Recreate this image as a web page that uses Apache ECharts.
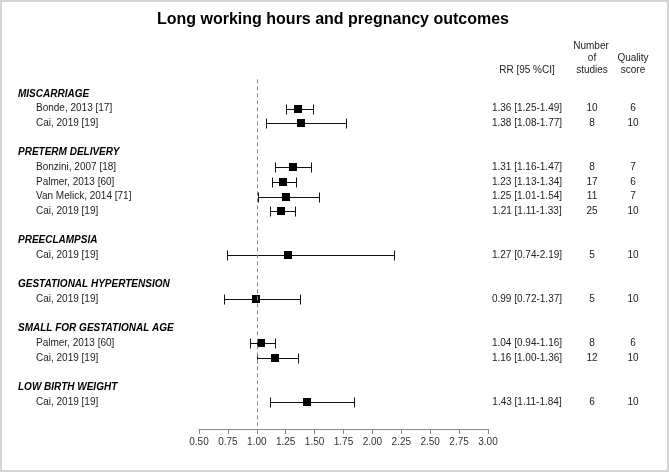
<!DOCTYPE html>
<html><head><meta charset="utf-8">
<script src="https://cdn.jsdelivr.net/npm/echarts@6/dist/echarts.min.js"></script>
<style>html,body{margin:0;padding:0;background:#fff}#c{width:669px;height:472px}</style>
</head><body><div id="c"></div>
<script>
// ---- data ----
const groups = ['MISCARRIAGE','PRETERM DELIVERY','PREECLAMPSIA','GESTATIONAL HYPERTENSION','SMALL FOR GESTATIONAL AGE','LOW BIRTH WEIGHT'];
const studyLabels = ['Bonde, 2013 [17]','Cai, 2019 [19]','Bonzini, 2007 [18]','Palmer, 2013 [60]','Van Melick, 2014 [71]','Cai, 2019 [19]','Cai, 2019 [19]','Cai, 2019 [19]','Palmer, 2013 [60]','Cai, 2019 [19]','Cai, 2019 [19]'];
const studyGroup = [0,0,1,1,1,1,2,3,4,4,5];
const rr    = [1.36,1.38,1.31,1.23,1.25,1.21,1.27,0.99,1.04,1.16,1.43];
const lower = [1.25,1.08,1.16,1.13,1.01,1.11,0.74,0.72,0.94,1.00,1.11];
const upper = [1.49,1.77,1.47,1.34,1.54,1.33,2.19,1.37,1.16,1.36,1.84];
const nStudies = [10,8,8,17,11,25,5,5,8,12,6];
const quality  = [6,10,7,6,7,10,10,10,6,10,10];
const xTicks = [0.5,0.75,1,1.25,1.5,1.75,2,2.25,2.5,2.75,3];
const refValue = 1;

// ---- build row layout (header, studies, blank) ----
const rows = [];
let r = 0;
groups.forEach((g, gi) => {
  rows.push({row: r++, type: 'header', label: g});
  studyGroup.forEach((sg, si) => { if (sg === gi) rows.push({row: r++, type: 'study', idx: si}); });
  r++;
});
const ciData = rows.filter(d => d.type === 'study').map(d => [d.row, rr[d.idx], lower[d.idx], upper[d.idx]]);
const textData = rows.map(d => [refValue, d.row]);

const FONT = '"Liberation Sans", Arial, sans-serif';
const chart = echarts.init(document.getElementById('c'));
chart.setOption({
  animation: false,
  grid: {left: 199, right: 181, top: 79.33, bottom: 43},
  xAxis: {
    type: 'value', position: 'bottom', min: xTicks[0], max: xTicks[xTicks.length-1], interval: 0.25,
    splitLine: {show: false},
    axisLine: {onZero: false, lineStyle: {color: '#888', width: 1}},
    axisTick: {length: 5, lineStyle: {color: '#888'}},
    axisLabel: {formatter: v => v.toFixed(2), fontSize: 10, color: '#333', margin: 8, fontFamily: FONT, showMinLabel: true, showMaxLabel: true}
  },
  yAxis: {type: 'value', inverse: true, min: -1, max: 22.84, show: false},
  graphic: [
    {type: 'rect', shape: {x: 1, y: 1, width: 667, height: 470}, style: {fill: 'none', stroke: '#d4d4d4', lineWidth: 2}, silent: true},
    {type: 'text', style: {text: 'Long working hours and pregnancy outcomes', x: 333, y: 20, align: 'center', verticalAlign: 'middle', font: 'bold 16px ' + FONT, fill: '#000'}},
    {type: 'text', style: {text: 'RR [95 %CI]', x: 527, y: 70.7, align: 'center', verticalAlign: 'middle', font: '10px ' + FONT, fill: '#222'}},
    {type: 'text', style: {text: 'Number', x: 591, y: 46, align: 'center', verticalAlign: 'middle', font: '10px ' + FONT, fill: '#222'}},
    {type: 'text', style: {text: 'of', x: 592, y: 58.3, align: 'center', verticalAlign: 'middle', font: '10px ' + FONT, fill: '#222'}},
    {type: 'text', style: {text: 'studies', x: 592, y: 70.7, align: 'center', verticalAlign: 'middle', font: '10px ' + FONT, fill: '#222'}},
    {type: 'text', style: {text: 'Quality', x: 633, y: 58.3, align: 'center', verticalAlign: 'middle', font: '10px ' + FONT, fill: '#222'}},
    {type: 'text', style: {text: 'score', x: 633, y: 70.7, align: 'center', verticalAlign: 'middle', font: '10px ' + FONT, fill: '#222'}}
  ],
  series: [
    {
      type: 'custom', clip: false,
      data: ciData,
      encode: {x: [1, 2, 3], y: 0},
      renderItem: (params, api) => {
        const y = api.value(0), est = api.value(1), lo = api.value(2), hi = api.value(3);
        const pLo = api.coord([lo, y]), pHi = api.coord([hi, y]), pE = api.coord([est, y]);
        const yy = Math.round(pE[1]) + 0.5;
        const xl = Math.round(pLo[0]) + 0.5, xh = Math.round(pHi[0]) + 0.5;
        const cap = 5, s = 8;
        const ls = {stroke: '#111', lineWidth: 1};
        return {type: 'group', children: [
          {type: 'line', shape: {x1: xl, y1: yy, x2: xh, y2: yy}, style: ls},
          {type: 'line', shape: {x1: xl, y1: yy - cap, x2: xl, y2: yy + cap}, style: ls},
          {type: 'line', shape: {x1: xh, y1: yy - cap, x2: xh, y2: yy + cap}, style: ls},
          {type: 'rect', shape: {x: Math.round(pE[0] - s / 2), y: Math.round(pE[1] - s / 2), width: s, height: s}, style: {fill: '#000'}}
        ]};
      },
      markLine: {
        silent: true, symbol: 'none', label: {show: false},
        lineStyle: {type: [4, 3], color: '#888', width: 1},
        data: [{xAxis: refValue}]
      }
    },
    {
      type: 'custom', clip: false, silent: true,
      data: textData,
      encode: {x: 0, y: 1},
      renderItem: (params, api) => {
        const d = rows[params.dataIndex];
        const y = api.coord([api.value(0), api.value(1)])[1];
        if (d.type === 'header') {
          return {type: 'text', style: {text: d.label, x: 18, y: y, align: 'left', verticalAlign: 'middle', font: 'italic bold 10px ' + FONT, fill: '#000'}};
        }
        const i = d.idx;
        const txt = rr[i].toFixed(2) + ' [' + lower[i].toFixed(2) + '-' + upper[i].toFixed(2) + ']';
        const st = (t, x, al) => ({type: 'text', style: {text: t, x: x, y: y, align: al, verticalAlign: 'middle', font: '10px ' + FONT, fill: '#222'}});
        return {type: 'group', children: [
          st(studyLabels[i], 36, 'left'),
          st(txt, 527, 'center'),
          st(String(nStudies[i]), 592, 'center'),
          st(String(quality[i]), 633, 'center')
        ]};
      }
    }
  ]
});
</script></body></html>
